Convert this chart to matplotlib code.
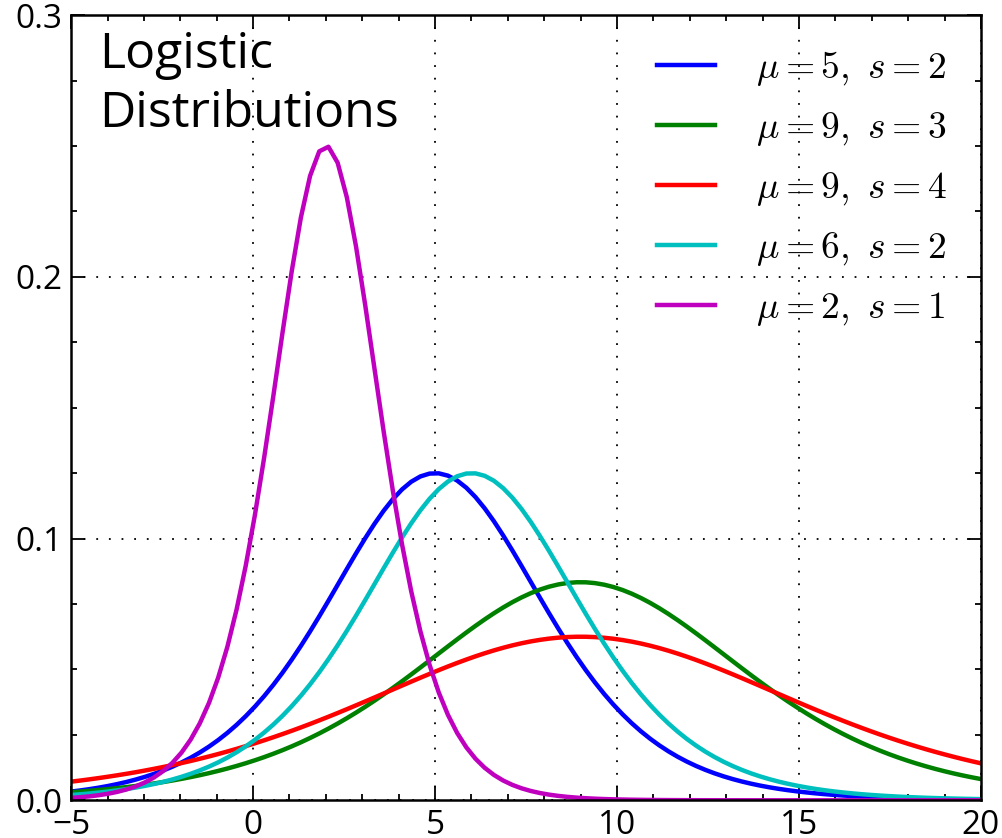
import numpy as np
import matplotlib.pyplot as plt
from matplotlib.ticker import MultipleLocator

plt.rcParams['font.family'] = ['Open Sans', 'DejaVu Sans']
plt.rcParams['mathtext.fontset'] = 'cm'

# parameters of each curve (mu = location, s = scale), as in the legend
mu = [5, 9, 9, 6, 2]
s = [2, 3, 4, 2, 1]
farger = ['#0000ff', '#008000', '#ff0000', '#00bfbf', '#bf00bf']

x = np.linspace(-5, 20, 100)


def logistic_pdf(x, mu, s):
    z = np.exp(-(x - mu) / s)
    return z / (s * (1 + z)**2)


fig = plt.figure(figsize=(10.02, 8.38), dpi=100)
ax = fig.add_axes([0.071, 0.045, 0.908, 0.937])

for m, sc, c in zip(mu, s, farger):
    ax.plot(x, logistic_pdf(x, m, sc), color=c, lw=3.2,
            label=r'$\mu=%d,\ s=%d$' % (m, sc))

ax.set_xlim(-5, 20)
ax.set_ylim(0, 0.3)
ax.xaxis.set_major_locator(MultipleLocator(5))
ax.xaxis.set_minor_locator(MultipleLocator(1))
ax.yaxis.set_major_locator(MultipleLocator(0.1))
ax.yaxis.set_minor_locator(MultipleLocator(0.025))
ax.tick_params(which='both', direction='in', top=True, right=True,
               labelsize=24, width=1.3, pad=6)
ax.tick_params(which='major', length=10)
ax.tick_params(which='minor', length=4)
for sp in ax.spines.values():
    sp.set_linewidth(1.8)

ax.grid(True, which='major', color='black', lw=1.3, linestyle=(0, (1, 6)))

ax.text(0.031, 0.98, 'Logistic\nDistributions', transform=ax.transAxes,
        fontsize=36, va='top', ha='left', linespacing=1.25)

ax.legend(loc='upper right', frameon=False, fontsize=27, handlelength=1.55,
          handletextpad=1.1, labelspacing=0.56, borderaxespad=0.5)

fig.savefig('out.png', dpi=100)
